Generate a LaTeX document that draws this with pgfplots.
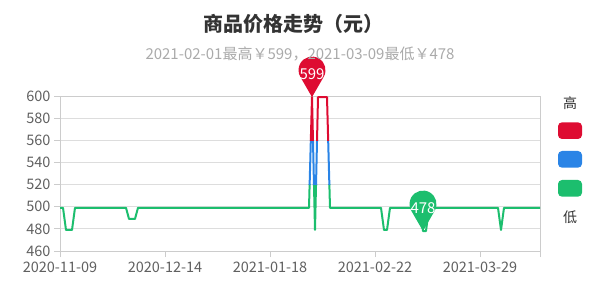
\documentclass[border=0pt]{standalone}
\usepackage{fontspec}
\setmainfont{Noto Sans CJK SC}
\usepackage{pgfplots}
\usepackage{pgfplotstable}
\pgfplotsset{compat=1.18}
\definecolor{cred}{RGB}{222,12,50}
\definecolor{cblue}{RGB}{42,132,230}
\definecolor{cgreen}{RGB}{28,190,110}
\definecolor{axgray}{RGB}{204,204,204}
\definecolor{gridgray}{RGB}{221,221,221}
\definecolor{labgray}{RGB}{96,96,96}
\definecolor{titlegray}{RGB}{51,51,51}
\definecolor{subgray}{RGB}{170,170,170}

\pgfdeclareplotmark{pin}{%
  \pgfpathmoveto{\pgfpointorigin}%
  \pgfpathlineto{\pgfpoint{11.69pt}{20.25pt}}%
  \pgfpatharc{-30}{210}{13.5pt}%
  \pgfpathclose
  \pgfusepathqfill
}

\pgfplotstableread{
day price
0 499
1 499
2 479
4 479
5 499
22 499
23 489
25 489
26 499
83 499
84 599
85 479
86 599
89 599
90 499
107 499
108 479
109 479
110 499
120 499
121 478
122 478
123 499
146 499
147 479
148 499
160 499
}\pricedata

\pgfplotsset{band/.style={scale only axis, anchor=south west, width=480pt,
  xmin=0, xmax=160, hide axis, clip=true}}

\begin{document}
\begin{tikzpicture}
\useasboundingbox (-60pt,-49pt) rectangle (540pt,251pt);
\begin{axis}[
  at={(0,0)}, anchor=south west, scale only axis,
  width=480pt, height=155pt,
  xmin=0, xmax=160, ymin=460, ymax=600,
  xtick={0,35,70,105,140,160},
  xticklabels={2020-11-09,2020-12-14,2021-01-18,2021-02-22,2021-03-29,{}},
  ytick={460,480,...,600},
  ymajorgrids, grid style={gridgray, line width=0.8pt},
  axis line style={axgray, line width=0.8pt},
  tick style={axgray, line width=0.8pt},
  tick align=outside, major tick length=6pt,
  xtick pos=bottom, ytick pos=left,
  ticklabel style={font=\fontsize{14.5}{16}\selectfont, text=labgray},
  xticklabel style={yshift=-1pt},
  /pgf/number format/assume math mode=true,
  /pgf/number format/1000 sep={},
]
\end{axis}
% green band: below 520
\begin{axis}[band, at={(0pt,-22.143pt)}, height=88.571pt, ymin=440, ymax=520]
\addplot[cgreen, line width=2pt, line join=round] table[x=day,y=price]{\pricedata};
\end{axis}
% blue band: 520-560
\begin{axis}[band, at={(0pt,66.429pt)}, height=44.286pt, ymin=520, ymax=560]
\addplot[cblue, line width=2pt, line join=round] table[x=day,y=price]{\pricedata};
\end{axis}
% red band: above 560
\begin{axis}[band, at={(0pt,110.714pt)}, height=66.429pt, ymin=560, ymax=620]
\addplot[cred, line width=2pt, line join=round] table[x=day,y=price]{\pricedata};
\end{axis}
% pins
\begin{axis}[
  at={(0,0)}, anchor=south west, scale only axis,
  width=480pt, height=155pt,
  xmin=0, xmax=160, ymin=460, ymax=600, hide axis, clip=false,
  /pgf/number format/assume math mode=true,
]
\addplot[only marks, mark=pin, cred, nodes near coords, nodes near coords align={center},
  every node near coord/.append style={yshift=23pt, text=white, font=\fontsize{15}{16}\selectfont}]
  coordinates {(84,599)};
\addplot[only marks, mark=pin, cgreen, nodes near coords, nodes near coords align={center},
  every node near coord/.append style={yshift=23pt, text=white, font=\fontsize{15}{16}\selectfont}]
  coordinates {(121,478)};
\end{axis}
\node[font=\fontsize{20}{24}\selectfont\bfseries, text=titlegray] at (233pt,227pt) {商品价格走势（元）};
\node[font=\fontsize{15}{17}\selectfont, text=subgray] at (240pt,197pt) {2021-02-01最高￥599，2021-03-09最低￥478};
\node[font=\fontsize{14}{16}\selectfont, text=titlegray] at (510pt,148pt) {高};
\fill[cred, rounded corners=4pt] (498pt,112pt) rectangle (522pt,128.7pt);
\fill[cblue, rounded corners=4pt] (498pt,83.3pt) rectangle (522pt,100pt);
\fill[cgreen, rounded corners=4pt] (498pt,54.3pt) rectangle (522pt,71pt);
\node[font=\fontsize{14}{16}\selectfont, text=titlegray] at (510pt,34pt) {低};
\end{tikzpicture}
\end{document}
